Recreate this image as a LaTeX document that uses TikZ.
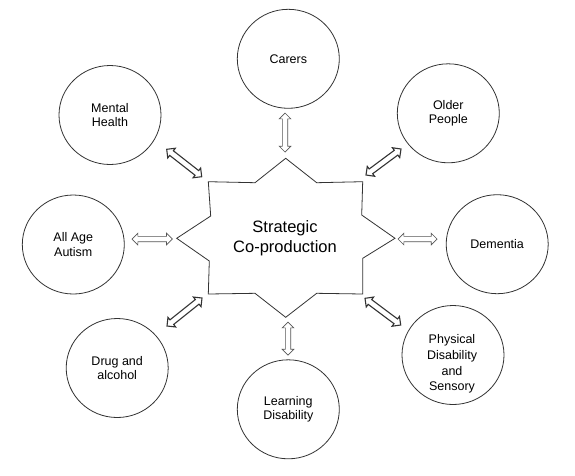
\documentclass[tikz,border=0pt]{standalone}
\usepackage{fontspec}
\setmainfont{Liberation Sans}
\usetikzlibrary{shapes.geometric,shapes.arrows,calc}
\definecolor{linegray}{HTML}{333333}
\definecolor{arrgray}{HTML}{555555}
\begin{document}
\begin{tikzpicture}[x=1pt,y=-1pt,
  circ/.style={ellipse,draw=linegray,line width=0.8pt,inner sep=0pt,minimum width=102pt,minimum height=99pt,align=center,font=\fontsize{12.5}{14.3}\selectfont},
  circtext/.style={align=center,inner sep=0pt,font=\fontsize{12.5}{15.8}\selectfont},
  darr/.style={double arrow,draw=arrgray,fill=white,line width=0.7pt,inner xsep=0pt,inner ysep=2.3pt,
    double arrow head extend=3.2pt,double arrow tip angle=90,anchor=center},
  diagarr/.style={darr,draw=linegray,line width=1.1pt,inner ysep=2.4pt},
  starline/.style={draw=linegray,line width=0.8pt,line join=miter}
]
\newcommand\linkarrow[4][]{%
  \path let \p1=($(#4)-(#3)$), \n1={atan2(\y1,\x1)}, \n2={veclen(\x1,\y1)} in
    node[darr,#1,rotate=\n1,minimum height=\n2] (#2) at ($(#3)!0.5!(#4)$) {};}
\useasboundingbox (0,0) rectangle (575,475);
\fill[white] (0,0) rectangle (575,475);

% star
\draw[starline] (285.7,158.3) coordinate (st) -- (255,182.7) -- (208.3,181.7) -- (210.7,216)
  -- (176.7,238.3) coordinate (sl) -- (209.3,261) -- (208.3,294) -- (255,293.3)
  -- (285.7,317.3) coordinate (sb) -- (316.7,293.3) -- (362.7,294) -- (362.7,258.3)
  -- (395,238.3) coordinate (sr) -- (361.7,215) -- (362.7,181.7) -- (316.7,182.7) -- cycle;
\node[font=\fontsize{16.5}{20}\selectfont,align=center] (center) at (285,238) {Strategic\\Co-production};

% circles
\node[circ] (carers) at (288.3,58.8) {Carers};
\node[circ] (mental) at (110,115) {Mental\\Health};
\node[circ] (older) at (448.3,113.3) {Older\\People};
\node[circ] (autism) at (73.3,244.5) {All Age\\Autism};
\node[circ] (dementia) at (497.2,244.2) {Dementia};
\node[circ] (drug) at (117.2,368) {Drug and\\alcohol};
\node[circ] (learning) at (288.3,409.3) {Learning\\Disability};
\node[circ] (physical) at (453,355) {};
\node[circtext] (physicaltext) at (452,364) {Physical\\Disability\\and\\Sensory};

% arrow end points
\coordinate (c1) at (285,113);   \coordinate (c2) at (285,152);
\coordinate (m1) at (166.7,149.3); \coordinate (m2) at (201.7,176.7);
\coordinate (o1) at (401,149);   \coordinate (o2) at (366,175);
\coordinate (a1) at (132,239);   \coordinate (a2) at (172.3,239);
\coordinate (d1) at (437,239);   \coordinate (d2) at (398,239);
\coordinate (g1) at (167,326);   \coordinate (g2) at (202,298);
\coordinate (p1) at (400.7,325); \coordinate (p2) at (365,298.3);
\coordinate (l1) at (288,355);   \coordinate (l2) at (288,322);

\linkarrow{arrC}{c1}{c2}
\linkarrow[diagarr]{arrM}{m1}{m2}
\linkarrow[diagarr]{arrO}{o1}{o2}
\linkarrow{arrA}{a1}{a2}
\linkarrow{arrD}{d1}{d2}
\linkarrow[diagarr]{arrG}{g1}{g2}
\linkarrow[diagarr]{arrP}{p1}{p2}
\linkarrow{arrL}{l1}{l2}
\end{tikzpicture}
\end{document}
